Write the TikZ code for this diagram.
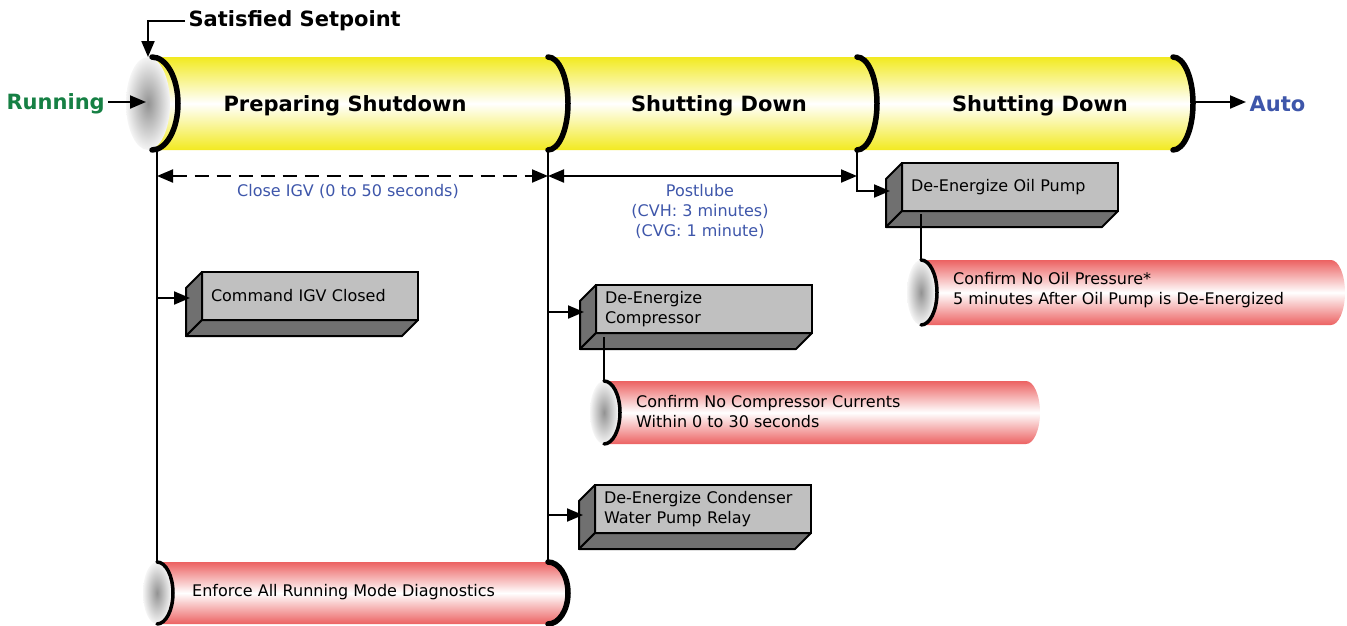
\documentclass[tikz,border=0pt]{standalone}
\usepackage{fontspec}
\setmainfont{DejaVu Sans}
\usetikzlibrary{arrows.meta}
\definecolor{pipeyellow}{RGB}{242,234,32}
\definecolor{pipered}{RGB}{236,98,98}
\definecolor{labelblue}{RGB}{62,86,170}
\definecolor{rungreen}{RGB}{22,128,68}
\definecolor{facegray}{RGB}{192,192,192}
\definecolor{sidegray}{RGB}{112,112,112}
\tikzset{
  title/.style={font=\fontsize{21}{24}\selectfont\bfseries},
  small/.style={font=\fontsize{16}{20}\selectfont, inner sep=0pt},
  tip/.tip={Triangle[length=16pt,width=13pt]},
  flow/.style={line width=2pt, -tip},
  link/.style={line width=2pt},
  rim/.style={line width=5.5pt, line cap=round},
  front/.style={draw, line width=2pt, fill=facegray, anchor=north west, outer sep=0pt,
    minimum width=216pt, minimum height=48pt, text width=198pt, inner xsep=9pt,
    align=left, font=\fontsize{16}{20}\selectfont},
  side/.style={draw, line width=2pt, fill=sidegray, line join=round},
}
% front face plus the two dark faces below and to the left
\newcommand{\cmdbox}[4]{%
\node[front] (#1) at (#2,#3) {#4};
\filldraw[side] (#1.north west) -- ++(-16,16) -- ([shift={(-16,16)}]#1.south west) -- (#1.south west) -- cycle;
\filldraw[side] (#1.south west) -- ++(-16,16) -- ([shift={(-16,16)}]#1.south east) -- (#1.south east) -- cycle;
}
% red pipe: left x, right x, top y, bottom y, right radius
\newcommand{\redpipe}[5]{%
\shade[top color=pipered,bottom color=pipered,middle color=white] (#1,#3) -- (#2,#3)
  arc[start angle=-90,end angle=90,x radius=#5,y radius={(#4-#3)/2}] -- (#1,#4) -- cycle;
\shade[inner color=gray!85,outer color=gray!8] (#1,{(#3+#4)/2}) ellipse [x radius=14,y radius={(#4-#3)/2}];
\draw[rim,line width=3.5pt] (#1,#3) arc[start angle=-90,end angle=90,x radius=16,y radius={(#4-#3)/2}];
}

\begin{document}
\begin{tikzpicture}[x=1pt,y=-1pt]
\useasboundingbox (0,0) rectangle (1347,625);
\def\ptop{57}
\def\pbot{150}
            %main pipe
\shade[top color=pipeyellow,bottom color=pipeyellow,middle color=white] (152,\ptop) -- (1173,\ptop)
  arc[start angle=-90,end angle=90,x radius=20,y radius=46.5] -- (152,\pbot) -- cycle;
\shade[inner color=gray!85,outer color=gray!8] (148,103.5) ellipse [x radius=22,y radius=46.5];
\draw[rim] (152,\ptop) arc[start angle=-90,end angle=90,x radius=26,y radius=46.5];
\foreach \x in {548,857,1173}{
\draw[rim] (\x,\ptop) arc[start angle=-90,end angle=90,x radius=20,y radius=46.5];
}
\node[title] (prep) at (345,106) {Preparing Shutdown};
\node[title] (down1) at (719,106) {Shutting Down};
\node[title] (down2) at (1040,106) {Shutting Down};
            %states in and out
\node[title,text=rungreen,anchor=west] (running) at (3,104) {Running};
\node[title,anchor=west] (setpoint) at (185,21) {Satisfied Setpoint};
\node[title,text=labelblue,anchor=west] (auto) at (1246,104) {Auto};
\coordinate (capin) at (146,102);
\coordinate (captop) at (148,57);
\coordinate (pipeout) at (1194,102);
\draw[flow] (running.east |- capin) -- (capin);
\draw[flow] (setpoint.west) -| (captop);
\draw[flow] (pipeout) -- (auto.west |- pipeout);
            %red pipes
\redpipe{157}{548}{562}{624}{20}
\draw[rim] (548,562) arc[start angle=-90,end angle=90,x radius=20,y radius=31];
\redpipe{604}{1026}{381}{444}{14}
\redpipe{921}{1331}{260}{325}{14}
\node[small,anchor=west,align=left] (enforce) at (192,592) {Enforce All Running Mode Diagnostics};
\node[small,anchor=west,align=left] (ampsok) at (636,412) {Confirm No Compressor Currents\\Within 0 to 30 seconds};
\node[small,anchor=west,align=left] (oilok) at (953,290) {Confirm No Oil Pressure*\\5 minutes After Oil Pump is De-Energized};
            %boxes
\cmdbox{igv}{202}{272}{Command IGV Closed}
\cmdbox{comp}{596}{285}{De-Energize\\Compressor}
\cmdbox{cond}{595}{485}{De-Energize Condenser\\Water Pump Relay}
\cmdbox{oil}{902}{163}{De-Energize Oil Pump}
            %time lines
\coordinate (t1) at (157,150);
\coordinate (t2) at (548,150);
\coordinate (t3) at (857,150);
\coordinate (b1) at (157,562);
\coordinate (b2) at (548,563);
\draw[link] (t1) -- (b1);
\draw[link] (t2) -- (b2);
\draw[flow] (t3) |- ([xshift=-12pt,yshift=-4pt]oil.west);
\draw[flow] ([yshift=-2pt]igv.west -| t1) -- ([xshift=-12pt,yshift=-2pt]igv.west);
\draw[flow] ([yshift=-3pt]comp.west -| t2) -- ([xshift=-12pt,yshift=-3pt]comp.west);
\draw[flow] ([yshift=-6pt]cond.west -| t2) -- ([xshift=-12pt,yshift=-6pt]cond.west);
\draw[link] ([xshift=8pt,yshift=-4pt]comp.south west) -- (604,381);
\draw[link] ([xshift=19pt,yshift=-3pt]oil.south west) -- (921,260);
            %durations
\coordinate (d1) at (157,176);
\coordinate (d2) at (548,176);
\coordinate (d3) at (857,176);
\draw[flow,tip-tip,dash pattern=on 14pt off 8pt] (d1) -- (d2);
\draw[flow,tip-tip] (d2) -- (d3);
\node[small,text=labelblue] (igvtime) at (348,191) {Close IGV (0 to 50 seconds)};
\node[small,text=labelblue,align=center] (lubetime) at (700,211) {Postlube\\(CVH: 3 minutes)\\(CVG: 1 minute)};
\end{tikzpicture}
\end{document}
